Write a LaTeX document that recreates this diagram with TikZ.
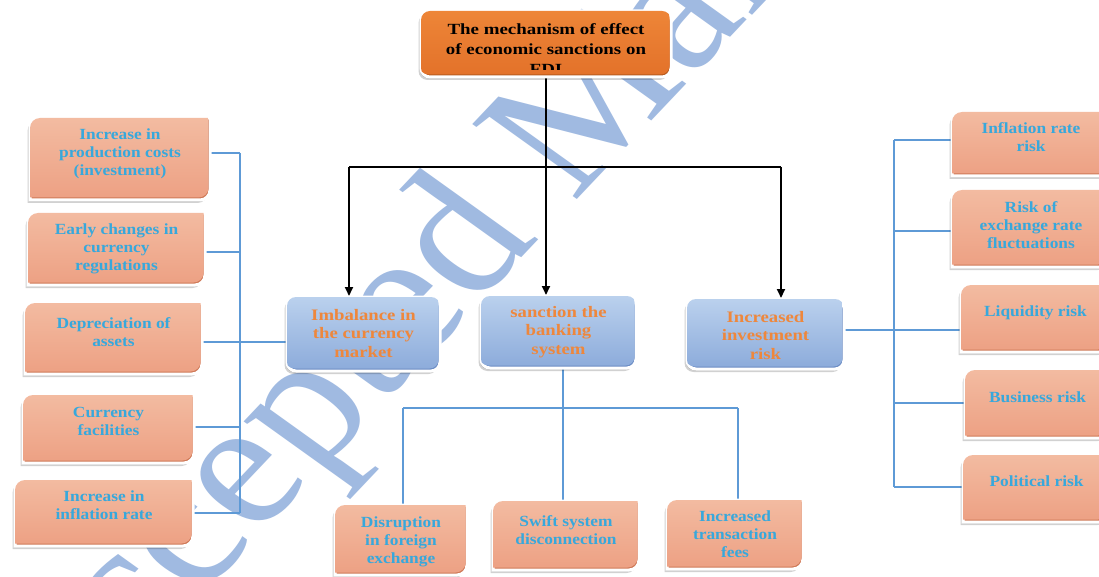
\documentclass[tikz,border=0pt]{standalone}
\usepackage{fontspec}
\setmainfont{Liberation Serif}
\newfontfamily\salfont{Liberation Serif}[FakeStretch=1.12]
\newfontfamily\midfont{Liberation Serif}[FakeStretch=1.17]
\newfontfamily\topfont{Liberation Serif}[FakeStretch=1.22]
\usetikzlibrary{shadows,arrows.meta}
\definecolor{stop}{HTML}{F3BCA2}
\definecolor{sbot}{HTML}{EDA184}
\definecolor{srim}{HTML}{CF7958}
\definecolor{btop}{HTML}{BCD2EE}
\definecolor{bbot}{HTML}{8DACDB}
\definecolor{brim}{HTML}{6B8CC4}
\definecolor{otop}{HTML}{EE8638}
\definecolor{obot}{HTML}{E3722A}
\definecolor{orim}{HTML}{B95B1F}
\definecolor{stext}{HTML}{37A8DC}
\definecolor{mtext}{HTML}{EE873C}
\definecolor{linec}{HTML}{5E9AD6}
\definecolor{wmc}{HTML}{A0BAE1}
\newcommand\rdpath[1]{([yshift=-10pt]#1.north west) arc[start angle=180,end angle=90,radius=10pt] -- (#1.north east) -- ([yshift=10pt]#1.south east) arc[start angle=0,end angle=-90,radius=10pt] -- (#1.south west) -- cycle}
\newcommand\rrpath[1]{[rounded corners=9pt] (#1.south west) rectangle (#1.north east)}
\newcommand\decobox[5]{%
  \path[boxshadow, draw=white, line width=3pt, fill=#3] #1{#2};
  \begin{scope}
    \clip #1{#2};
    \shade[top color=#4, bottom color=#5, transform canvas={shift={(-1.5pt,2.5pt)}}] #1{#2};
  \end{scope}}
\newcommand\mkbox[5]{\node[boxsz, minimum width={#4-#2}, minimum height={#5-#3}] (#1) at ({(#2+#4)/2},{(#3+#5)/2}) {};}
\begin{document}
\begin{tikzpicture}[x=1pt,y=-1pt,
  boxsz/.style={rectangle, inner sep=0pt, outer sep=0pt, draw=none},
  boxshadow/.style={drop shadow={shadow xshift=-2.5pt, shadow yshift=-3pt, opacity=.18, fill=black},
                    drop shadow={shadow xshift=-1pt, shadow yshift=-1.5pt, opacity=.2, fill=black}},
  stxt/.style={font=\salfont\bfseries\fontsize{15.5}{18}\selectfont, text=stext, align=center, inner sep=0pt, anchor=north},
  mtxt/.style={font=\midfont\bfseries\fontsize{16}{18.5}\selectfont, text=mtext, align=center, inner sep=0pt, anchor=north},
  ttxt/.style={font=\topfont\bfseries\fontsize{15.5}{20}\selectfont, text=black, align=center, inner sep=0pt, anchor=north},
  wm/.style={font=\fontsize{180}{180}\selectfont, text=wmc, xscale=1.15, rotate=50.5, inner sep=0pt},
  bl/.style={draw=linec, line width=2pt},
  blkline/.style={draw=black, line width=1.8pt},
  blk/.style={draw=black, line width=1.8pt, -{Triangle[length=9pt,width=8pt]}, shorten >=1pt}]
\useasboundingbox (0,0) rectangle (1099,577);
\clip (0,0) rectangle (1099,577);
\fill[white] (0,0) rectangle (1099,577);
% watermark
\coordinate (wmpos) at (570,139);
\node[wm] (wmark) at (wmpos) {Accepted Manuscript};
% box placeholders
\mkbox{T}{421}{11}{671}{77}
\mkbox{M1}{287}{297}{440}{371}
\mkbox{M2}{481}{296}{636}{368}
\mkbox{M3}{687}{299}{844}{369}
\mkbox{L1}{30}{118}{210}{200}
\mkbox{L2}{28}{213}{205}{285}
\mkbox{L3}{25}{303}{202}{374}
\mkbox{L4}{23}{395}{194}{463}
\mkbox{L5}{15}{480}{193}{546}
\mkbox{R1}{952}{112}{1110}{176}
\mkbox{R2}{952}{190}{1110}{267}
\mkbox{R3}{961}{285}{1110}{352}
\mkbox{R4}{965}{370}{1110}{438}
\mkbox{R5}{963}{455}{1110}{522}
\mkbox{B1}{335}{505}{467}{575}
\mkbox{B2}{493}{501}{639}{570}
\mkbox{B3}{667}{500}{803}{569}
% junction coordinates
\coordinate (HL) at (349,167);
\coordinate (HR) at (781,167);
\coordinate (LB1) at (240,153);
\coordinate (LB2) at (240,252);
\coordinate (LB3) at (240,342);
\coordinate (LB4) at (240,427);
\coordinate (LB5) at (240,513);
\coordinate (RB1) at (894,140);
\coordinate (RB2) at (894,231);
\coordinate (RB3) at (894,330);
\coordinate (RB4) at (894,403);
\coordinate (RB5) at (894,487);
\coordinate (BJ) at (563,408);
\coordinate (BL) at (403,408);
\coordinate (BR) at (738,408);
% black connectors
\draw[blk] (T.south) -- (T.south |- M2.north);
\draw[blkline] (HL) -- (HR);
\draw[blk] (HL) -- (HL |- M1.north);
\draw[blk] (HR) -- (HR |- M3.north);
% left bracket
\draw[bl] (LB1) -- (LB5);
\draw[bl] (L1.east |- LB1) -- (LB1);
\draw[bl] (L2.east |- LB2) -- (LB2);
\draw[bl] (L3.east |- LB3) -- (M1.west |- LB3);
\draw[bl] (L4.east |- LB4) -- (LB4);
\draw[bl] (L5.east |- LB5) -- (LB5);
% right bracket
\draw[bl] (RB1) -- (RB5);
\draw[bl] (RB1) -- (R1.west |- RB1);
\draw[bl] (RB2) -- (R2.west |- RB2);
\draw[bl] (M3.east |- RB3) -- (R3.west |- RB3);
\draw[bl] (RB4) -- (R4.west |- RB4);
\draw[bl] (RB5) -- (R5.west |- RB5);
% bottom tree
\draw[bl] (M2.south -| BJ) -- (BJ);
\draw[bl] (BL) -- (BR);
\draw[bl] (BL) -- (BL |- B1.north);
\draw[bl] (BJ) -- (BJ |- B2.north);
\draw[bl] (BR) -- (BR |- B3.north);
% boxes
\decobox\rrpath{T}{orim}{otop}{obot}
\decobox\rrpath{M1}{brim}{btop}{bbot}
\decobox\rrpath{M2}{brim}{btop}{bbot}
\decobox\rrpath{M3}{brim}{btop}{bbot}
\decobox\rdpath{L1}{srim}{stop}{sbot}
\decobox\rdpath{L2}{srim}{stop}{sbot}
\decobox\rdpath{L3}{srim}{stop}{sbot}
\decobox\rdpath{L4}{srim}{stop}{sbot}
\decobox\rdpath{L5}{srim}{stop}{sbot}
\decobox\rdpath{R1}{srim}{stop}{sbot}
\decobox\rdpath{R2}{srim}{stop}{sbot}
\decobox\rdpath{R3}{srim}{stop}{sbot}
\decobox\rdpath{R4}{srim}{stop}{sbot}
\decobox\rdpath{R5}{srim}{stop}{sbot}
\decobox\rdpath{B1}{srim}{stop}{sbot}
\decobox\rdpath{B2}{srim}{stop}{sbot}
\decobox\rdpath{B3}{srim}{stop}{sbot}
% texts
\begin{scope}
  \clip (T.north west) rectangle ([yshift=7.5pt]T.south east);
  \node[ttxt] (Tt) at ([yshift=-12.5pt]T.north) {The mechanism of effect\\of economic sanctions on\\FDI};
\end{scope}
\node[mtxt] (M1t) at ([yshift=-12pt]M1.north) {Imbalance in\\the currency\\market};
\node[mtxt] (M2t) at ([yshift=-10pt]M2.north) {sanction the\\banking\\system};
\node[mtxt] (M3t) at ([yshift=-12pt]M3.north) {Increased\\investment\\risk};
\node[stxt] (L1t) at ([yshift=-11pt]L1.north) {Increase in\\production costs\\(investment)};
\node[stxt] (L2t) at ([yshift=-11pt]L2.north) {Early changes in\\currency\\regulations};
\node[stxt] (L3t) at ([yshift=-14pt]L3.north) {Depreciation of\\assets};
\node[stxt] (L4t) at ([yshift=-12pt]L4.north) {Currency\\facilities};
\node[stxt] (L5t) at ([yshift=-11pt]L5.north) {Increase in\\inflation rate};
\node[stxt] (R1t) at ([yshift=-10pt]R1.north) {Inflation rate\\risk};
\node[stxt] (R2t) at ([yshift=-11pt]R2.north) {Risk of\\exchange rate\\fluctuations};
\node[stxt] (R3t) at ([yshift=-21pt]R3.north) {Liquidity risk};
\node[stxt] (R4t) at ([yshift=-22pt]R4.north) {Business risk};
\node[stxt] (R5t) at ([yshift=-21pt]R5.north) {Political risk};
\node[stxt] (B1t) at ([yshift=-12pt]B1.north) {Disruption\\in foreign\\exchange};
\node[stxt] (B2t) at ([yshift=-14pt]B2.north) {Swift system\\disconnection};
\node[stxt] (B3t) at ([yshift=-11pt]B3.north) {Increased\\transaction\\fees};
\end{tikzpicture}
\end{document}
